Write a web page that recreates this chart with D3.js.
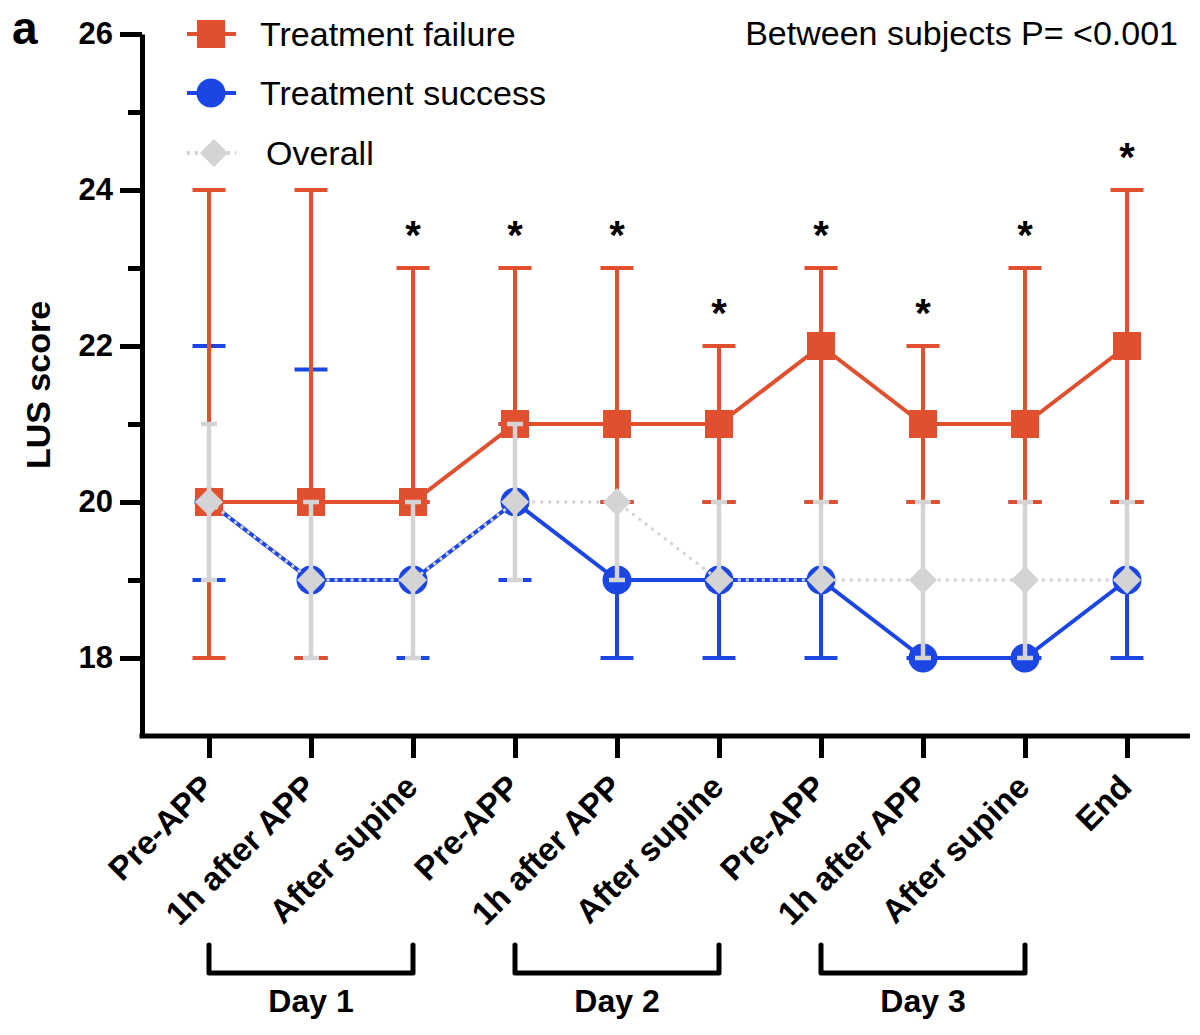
<!DOCTYPE html>
<html lang="en">
<head>
  <meta charset="UTF-8" />
  <title>LUS score by time point</title>
  <style>
    body {
      margin: 0;
      background: #fff;
      font-family: 'Liberation Sans', Arial, sans-serif;
    }
    svg { display: block; }
    .axis path, .axis line {
      stroke: #000;
      stroke-width: 5;
    }
    .axis text {
      font-family: 'Liberation Sans', Arial, sans-serif;
      font-weight: bold;
      font-size: 31px;
      fill: #000;
    }
    .x.axis text { font-size: 33px; }
  </style>
</head>
<body>
  <svg id="chart" width="1200" height="1035"></svg>

  <script src="https://d3js.org/d3.v7.min.js"></script>
  <script>
    // data
    const categories = ["Pre-APP", "1h after APP", "After supine",
                        "Pre-APP", "1h after APP", "After supine",
                        "Pre-APP", "1h after APP", "After supine", "End"];

    const failureMid = [20, 20, 20, 21, 21, 21, 22, 21, 21, 22];
    const failureHi  = [24, 24, 23, 23, 23, 22, 23, 22, 23, 24];
    const failureLo  = [18, 18, 20, 21, 20, 20, 20, 20, 20, 20];

    const successMid = [20, 19, 19, 20, 19, 19, 19, 18, 18, 19];
    const successHi  = [22, 21.7, 20, 21, 20, 20, 20, 20, 20, 20];
    const successLo  = [19, 18, 18, 19, 18, 18, 18, 18, 18, 18];

    const overallMid = [20, 19, 19, 20, 20, 19, 19, 19, 19, 19];
    const overallHi  = [21, 20, 20, 21, 20, 20, 20, 20, 20, 20];
    const overallLo  = [19, 18, 18, 19, 19, 19, 19, 18, 18, 19];

    const starred = [false, false, true, true, true, true, true, true, true, true];

    const dayLabels = ["Day 1", "Day 2", "Day 3"];
    const dayFrom   = [0, 3, 6];
    const dayTo     = [2, 5, 8];

    const yMajor = [18, 20, 22, 24, 26];
    const yMinor = [19, 21, 23, 25];

    const RED = "#e0502f", BLUE = "#1c46e4", GREY = "#d4d4d4";

    const svg = d3.select("#chart");
    const axisX = 142, axisY = 736;

    const x = d3.scalePoint()
                .domain(d3.range(categories.length))
                .range([209, 1127]);
    const y = d3.scaleLinear()
                .domain([17, 26])
                .range([axisY, 34]);

    // y axis, major + minor ticks
    svg.append("g")
       .attr("class", "y axis")
       .attr("transform", `translate(${axisX},0)`)
       .call(d3.axisLeft(y).tickValues(yMajor).tickSize(22).tickSizeOuter(0).tickPadding(7).tickFormat(d3.format("d")));
    svg.append("g")
       .attr("class", "y axis")
       .attr("transform", `translate(${axisX},0)`)
       .call(d3.axisLeft(y).tickValues(yMinor).tickSize(14).tickSizeOuter(0).tickFormat(""))
       .select(".domain").remove();

    // x axis
    const xg = svg.append("g")
       .attr("class", "x axis")
       .attr("transform", `translate(0,${axisY})`)
       .call(d3.axisBottom(x).tickSize(22).tickSizeOuter(0).tickFormat(i => categories[i]));
    xg.select(".domain").attr("d", `M${axisX - 2.5},0H1190`);
    xg.selectAll(".tick text")
      .attr("x", 0).attr("y", 0).attr("dy", 0)
      .attr("transform", "translate(6,53) rotate(-45)")
      .style("text-anchor", "end");

    // y label
    svg.append("text")
       .attr("transform", "translate(50,385) rotate(-90)")
       .attr("text-anchor", "middle")
       .attr("font-weight", "bold")
       .attr("font-size", 34)
       .text("LUS score");

    // panel letter
    svg.append("text")
       .attr("x", 12).attr("y", 44)
       .attr("font-weight", "bold")
       .attr("font-size", 46)
       .text("a");

    svg.append("text")
       .attr("x", 1178).attr("y", 45)
       .attr("text-anchor", "end")
       .attr("font-size", 34)
       .text("Between subjects P= <0.001");

    // marker shapes
    const square  = d3.symbol(d3.symbolSquare, 28 * 28)();
    const circle  = d3.symbol(d3.symbolCircle, Math.PI * 14.5 * 14.5)();
    const diamond = d3.symbol(d3.symbolSquare, 392)();

    function drawSeries(mid, hi, lo, opt) {
      const g = svg.append("g");
      // error bars
      mid.forEach((m, i) => {
        const cx = x(i);
        g.append("line")
         .attr("x1", cx).attr("x2", cx)
         .attr("y1", y(hi[i])).attr("y2", y(lo[i]))
         .attr("stroke", opt.color).attr("stroke-width", opt.barWidth);
        [hi[i], lo[i]].forEach(v => {
          g.append("line")
           .attr("x1", cx - opt.cap / 2).attr("x2", cx + opt.cap / 2)
           .attr("y1", y(v)).attr("y2", y(v))
           .attr("stroke", opt.color).attr("stroke-width", opt.barWidth);
        });
      });
      // connecting line
      g.append("path")
       .datum(mid)
       .attr("fill", "none")
       .attr("stroke", opt.color)
       .attr("stroke-width", opt.lineWidth)
       .attr("stroke-dasharray", opt.dash || null)
       .attr("d", d3.line().x((d, i) => x(i)).y(d => y(d)));
      // symbols
      g.selectAll(".pt")
       .data(mid)
       .join("path")
       .attr("d", opt.shape)
       .attr("fill", opt.color)
       .attr("transform", (d, i) => `translate(${x(i)},${y(d)}) rotate(${opt.rotate || 0})`);
    }

    drawSeries(successMid, successHi, successLo,
               { color: BLUE, barWidth: 4, cap: 33, lineWidth: 4, shape: circle });
    drawSeries(failureMid, failureHi, failureLo,
               { color: RED, barWidth: 4, cap: 33, lineWidth: 4, shape: square });
    drawSeries(overallMid, overallHi, overallLo,
               { color: GREY, barWidth: 4.5, cap: 16, lineWidth: 3, dash: "3,5", shape: diamond, rotate: 45 });

    // significance stars above failure upper bars
    svg.selectAll(".star")
       .data(failureHi.map((v, i) => ({ v, i })).filter(d => starred[d.i]))
       .join("text")
       .attr("x", d => x(d.i))
       .attr("y", d => y(d.v) - 19)
       .attr("text-anchor", "middle")
       .attr("font-weight", "bold")
       .attr("font-size", 40)
       .text("*");

    // legend
    const legend = [
      { label: "Treatment failure", color: RED, shape: square, cy: 34, tx: 260 },
      { label: "Treatment success", color: BLUE, shape: circle, cy: 93, tx: 260 },
      { label: "Overall", color: GREY, shape: diamond, cy: 153, tx: 266, dash: "3,5", rotate: 45 }
    ];
    legend.forEach(l => {
      svg.append("line")
         .attr("x1", 187).attr("x2", 236)
         .attr("y1", l.cy).attr("y2", l.cy)
         .attr("stroke", l.color).attr("stroke-width", 4)
         .attr("stroke-dasharray", l.dash || null);
      svg.append("path")
         .attr("d", l.shape)
         .attr("fill", l.color)
         .attr("transform", `translate(${l.dash ? 214 : 211},${l.cy}) rotate(${l.rotate || 0})`);
      svg.append("text")
         .attr("x", l.tx).attr("y", l.cy + 12)
         .attr("font-size", 34)
         .text(l.label);
    });

    // day brackets
    dayLabels.forEach((lab, k) => {
      const x0 = x(dayFrom[k]), x1 = x(dayTo[k]);
      svg.append("path")
         .attr("d", `M${x0},945V973H${x1}V945`)
         .attr("fill", "none")
         .attr("stroke", "#000")
         .attr("stroke-width", 5)
         .attr("stroke-linejoin", "round")
         .attr("stroke-linecap", "round");
      svg.append("text")
         .attr("x", (x0 + x1) / 2).attr("y", 1012)
         .attr("text-anchor", "middle")
         .attr("font-weight", "bold")
         .attr("font-size", 32)
         .text(lab);
    });
  </script>
</body>
</html>
